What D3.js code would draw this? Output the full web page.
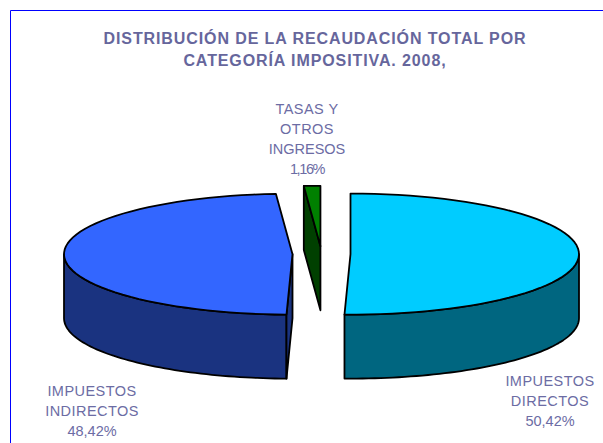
<!DOCTYPE html>
<html>
<head>
<meta charset="utf-8">
<script src="https://cdn.jsdelivr.net/npm/d3@7"></script>
<style>
  html, body { margin: 0; padding: 0; background: #fff; }
  svg { display: block; }
  text { font-family: "Liberation Sans", Arial, sans-serif; fill: #6c6ca4; text-anchor: middle; }
</style>
</head>
<body>
<script>
// values
var categories = ['IMPUESTOS DIRECTOS', 'IMPUESTOS INDIRECTOS', 'TASAS Y OTROS INGRESOS'];
var shares = [50.42, 48.42, 1.16];
var shareLabels = ['50,42%', '48,42%', '1,16%'];
var titleLines = ['DISTRIBUCIÓN DE LA RECAUDACIÓN TOTAL POR', 'CATEGORÍA IMPOSITIVA. 2008,'];
var labelLines = [['IMPUESTOS', 'DIRECTOS'], ['IMPUESTOS', 'INDIRECTOS'], ['TASAS Y', 'OTROS', 'INGRESOS']];
var topColors = ['#00ccff', '#3366ff', '#008000'];
var sideColors = ['#006680', '#1a3380', '#004000'];

var width = 603, height = 443;
var svg = d3.select('body').append('svg').attr('width', width).attr('height', height);

// blue frame, only top and left fit in the picture
svg.append('path').attr('d', 'M10.5,443V10.5H603').attr('fill', 'none').attr('stroke', '#0000ff');

//the tilted pie
var cx = 321.5, cy = 254, rx = 228.5, ry = 60.5, depth = 64, explode = 29;

var arcs = d3.pie().sort(null).value(function(d) { return d; })(shares);

// angle 0 is at the top and goes clockwise, like d3.arc
var px = d3.scaleLinear().domain([-1, 1]).range([-rx, rx]);
var py = d3.scaleLinear().domain([-1, 1]).range([ry, -ry]);

var line = d3.line();

arcs.forEach(function(a) {
  var mid = (a.startAngle + a.endAngle) / 2;
  a.ox = cx + px(Math.sin(mid)) * explode / rx;
  a.oy = cy + py(Math.cos(mid)) * explode / rx;
});

var point = function(a, t, drop) {
  return [a.ox + px(Math.sin(t)), a.oy + py(Math.cos(t)) + (drop || 0)];
};

var rimPoints = function(a, from, to, drop) {
  return d3.range(0, 61).map(function(i) {
    return point(a, from + (to - from) * i / 60, drop);
  });
};

var drawPoly = function(pts, color) {
  svg.append('path').attr('d', line(pts) + 'Z').attr('fill', color)
    .attr('stroke', '#000').attr('stroke-width', 1.8).attr('stroke-linejoin', 'round');
};

// back pieces first: the green wedge, then the two big ones
[2, 0, 1].forEach(function(i) {
  var a = arcs[i];
  var apex = [a.ox, a.oy];
  var apexLow = [a.ox, a.oy + depth];

  // outer wall, only the part facing us
  var wallFrom = Math.max(a.startAngle, Math.PI / 2);
  var wallTo = Math.min(a.endAngle, Math.PI * 1.5);
  if (wallFrom < wallTo) {
    drawPoly(rimPoints(a, wallFrom, wallTo, 0).concat(rimPoints(a, wallTo, wallFrom, depth)), sideColors[i]);
  }
  // cut faces that can be seen
  if (i > 0) {
    drawPoly([apex, point(a, a.startAngle), point(a, a.startAngle, depth), apexLow], sideColors[i]);
  }
  drawPoly([apex].concat(rimPoints(a, a.startAngle, a.endAngle, 0)), topColors[i]);
});

// title
var title = svg.append('g').attr('font-size', 16).attr('font-weight', 'bold').attr('letter-spacing', 0.9);
titleLines.forEach(function(t, i) {
  title.append('text').attr('x', 315).attr('y', 44 + i * 22).style('fill', '#66669c').text(t);
});

// labels
var labelPos = [[550, 386], [92, 396], [307, 114]];
var labels = svg.append('g').attr('font-size', 14.5);
categories.forEach(function(c, i) {
  var lines = labelLines[i].concat([shareLabels[i]]);
  labels.selectAll(null).data(lines).enter().append('text')
    .attr('x', labelPos[i][0])
    .attr('y', function(d, j) { return labelPos[i][1] + j * 19.9; })
    .attr('letter-spacing', function(d) {
      if (d === '1,16%') return -1.4;
      return shareLabels.indexOf(d) >= 0 || d === 'INGRESOS' ? 0 : 0.45;
    })
    .text(function(d) { return d; });
});
</script>
</body>
</html>
